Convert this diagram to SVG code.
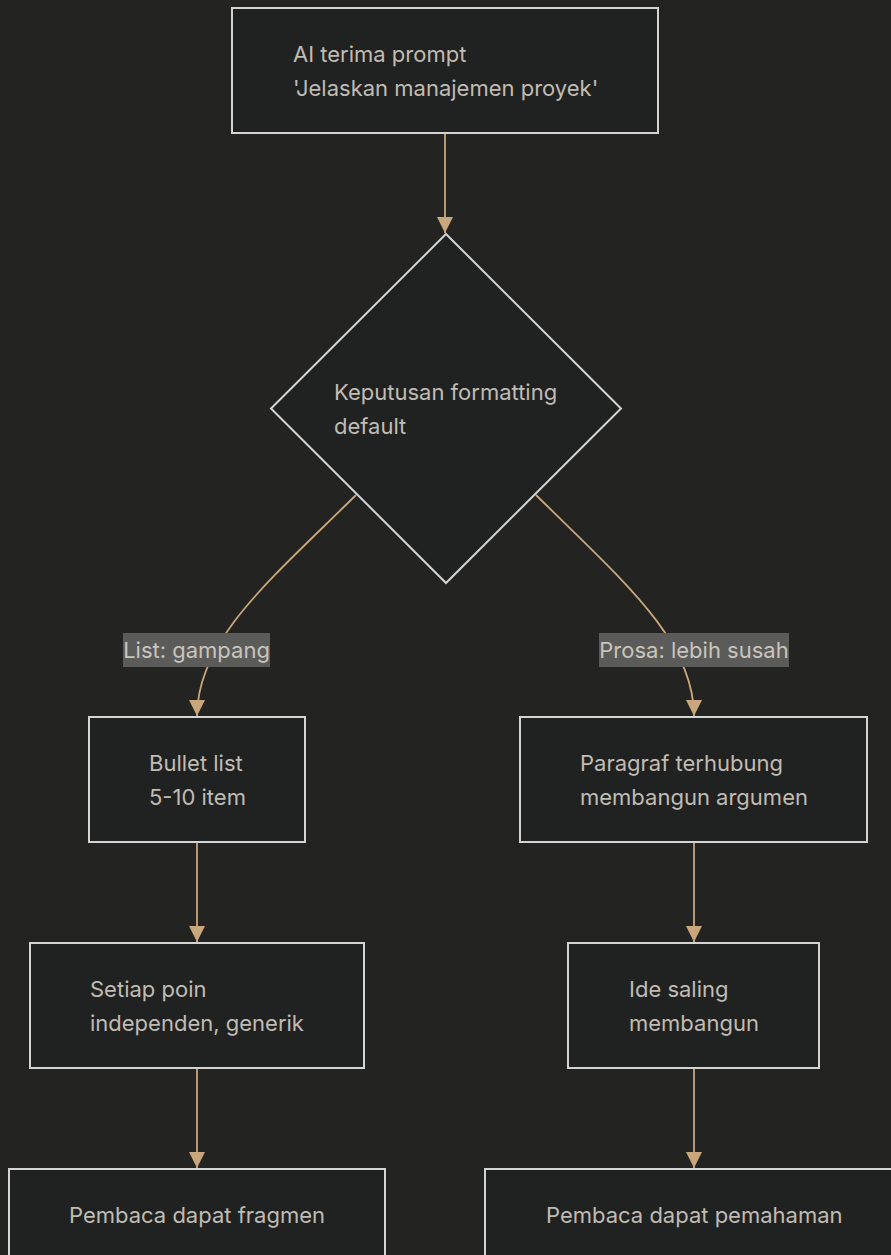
<svg xmlns="http://www.w3.org/2000/svg" width="891" height="1255" viewBox="0 0 891 1255">
  <style>
    .node rect, .node polygon { fill: #202221; stroke: #d4d4d4; stroke-width: 2; }
    .node text { font-family: Inter, "Noto Sans", "Liberation Sans", sans-serif; font-size: 22px; fill: #c1bcb3; }
    .edge { fill: none; stroke: #c9a67b; stroke-width: 1.8; }
    .lbl rect { fill: #5b5b5a; }
    .lbl text { font-family: Inter, "Noto Sans", "Liberation Sans", sans-serif; font-size: 22px; fill: #c9c5bd; text-anchor: middle; }
  </style>
  <defs>
    <marker id="arrow" viewBox="0 0 16 16" refX="16" refY="8" markerWidth="16" markerHeight="16" markerUnits="userSpaceOnUse" orient="auto">
      <path d="M0,0 L16,8 L0,16 Z" fill="#c9a67b"/>
    </marker>
  </defs>
  <rect width="891" height="1255" fill="#232322"/>

  <g id="connectors">
    <path class="edge" d="M445,134 L445,233" marker-end="url(#arrow)"/>
    <path class="edge" d="M356,495 C270,580 197,640 197,716" marker-end="url(#arrow)"/>
    <path class="edge" d="M536,495 C622,580 694,640 694,716" marker-end="url(#arrow)"/>
    <path class="edge" d="M197,843 L197,942" marker-end="url(#arrow)"/>
    <path class="edge" d="M197,1069 L197,1168" marker-end="url(#arrow)"/>
    <path class="edge" d="M694,843 L694,942" marker-end="url(#arrow)"/>
    <path class="edge" d="M694,1069 L694,1168" marker-end="url(#arrow)"/>
  </g>

  <g id="label-list" class="lbl">
    <rect x="123" y="633" width="147" height="34"/>
    <text x="196.5" y="658">List: gampang</text>
  </g>
  <g id="label-prosa" class="lbl">
    <rect x="599" y="633" width="190" height="34"/>
    <text x="694" y="658">Prosa: lebih susah</text>
  </g>

  <g id="prompt" class="node">
    <rect x="232" y="8" width="426" height="125"/>
    <text x="293" y="62">AI terima prompt</text>
    <text x="293" y="96">'Jelaskan manajemen proyek'</text>
  </g>

  <g id="decision" class="node">
    <polygon points="446,234 621,408.5 446,583 271,408.5"/>
    <text x="334" y="400">Keputusan formatting</text>
    <text x="334" y="434">default</text>
  </g>

  <g id="bullet" class="node">
    <rect x="89" y="717" width="216" height="125"/>
    <text x="149" y="771">Bullet list</text>
    <text x="149" y="805">5-10 item</text>
  </g>

  <g id="paragraf" class="node">
    <rect x="520" y="717" width="347" height="125"/>
    <text x="580" y="771">Paragraf terhubung</text>
    <text x="580" y="805">membangun argumen</text>
  </g>

  <g id="setiap" class="node">
    <rect x="30" y="943" width="334" height="125"/>
    <text x="90" y="997">Setiap poin</text>
    <text x="90" y="1031">independen, generik</text>
  </g>

  <g id="ide" class="node">
    <rect x="568" y="943" width="251" height="125"/>
    <text x="629" y="997">Ide saling</text>
    <text x="629" y="1031">membangun</text>
  </g>

  <g id="fragmen" class="node">
    <rect x="9" y="1169" width="376" height="125"/>
    <text x="69" y="1223">Pembaca dapat fragmen</text>
  </g>

  <g id="pemahaman" class="node">
    <rect x="485" y="1169" width="420" height="125"/>
    <text x="546" y="1223">Pembaca dapat pemahaman</text>
  </g>
</svg>
